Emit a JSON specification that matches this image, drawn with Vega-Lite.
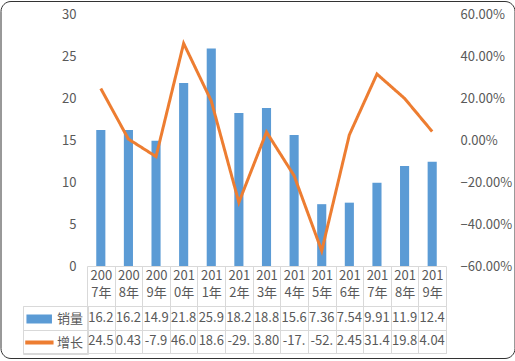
{
  "$schema": "https://vega.github.io/schema/vega-lite/v6.json",
  "padding": 0,
  "background": "white",
  "bounds": "flush",
  "spacing": 40,
  "config": {
    "view": {"stroke": null},
    "font": "Noto Sans CJK SC",
    "axis": {"labelFont": "Noto Sans CJK SC", "grid": false},
    "legend": {"labelFont": "Noto Sans CJK SC"}
  },
  "data": {
    "values": [
      {"year": "2007年", "sales": 16.2, "growth": 24.5, "s_txt": "16.2", "g_txt": "24.5"},
      {"year": "2008年", "sales": 16.2, "growth": 0.43, "s_txt": "16.2", "g_txt": "0.43"},
      {"year": "2009年", "sales": 14.9, "growth": -7.9, "s_txt": "14.9", "g_txt": "-7.9"},
      {"year": "2010年", "sales": 21.8, "growth": 46.0, "s_txt": "21.8", "g_txt": "46.0"},
      {"year": "2011年", "sales": 25.9, "growth": 18.6, "s_txt": "25.9", "g_txt": "18.6"},
      {"year": "2012年", "sales": 18.2, "growth": -29.7, "s_txt": "18.2", "g_txt": "-29."},
      {"year": "2013年", "sales": 18.8, "growth": 3.8, "s_txt": "18.8", "g_txt": "3.80"},
      {"year": "2014年", "sales": 15.6, "growth": -17.0, "s_txt": "15.6", "g_txt": "-17."},
      {"year": "2015年", "sales": 7.36, "growth": -52.8, "s_txt": "7.36", "g_txt": "-52."},
      {"year": "2016年", "sales": 7.54, "growth": 2.45, "s_txt": "7.54", "g_txt": "2.45"},
      {"year": "2017年", "sales": 9.91, "growth": 31.4, "s_txt": "9.91", "g_txt": "31.4"},
      {"year": "2018年", "sales": 11.9, "growth": 19.8, "s_txt": "11.9", "g_txt": "19.8"},
      {"year": "2019年", "sales": 12.4, "growth": 4.04, "s_txt": "12.4", "g_txt": "4.04"}
    ]
  },
  "resolve": {
    "scale": {"color": "independent", "strokeDash": "independent"},
    "legend": {"color": "independent", "strokeDash": "independent"}
  },
  "vconcat": [
    {
      "width": 359,
      "height": 252,
      "resolve": {"scale": {"y": "independent"}},
      "layer": [
        {
          "mark": {"type": "bar", "width": {"band": 0.33}},
          "encoding": {
            "x": {
              "field": "year", "type": "nominal", "sort": null,
              "scale": {"paddingInner": 0, "paddingOuter": 0},
              "axis": {
                "title": null, "labelAngle": 0,
                "labelExpr": "[substring(datum.label,0,3), substring(datum.label,3)]",
                "labelPadding": -37, "labelBaseline": "top", "labelLineHeight": 17,
                "labelFontSize": 13, "labelColor": "#595959",
                "tickBand": "extent", "tickSize": 40, "tickColor": "#d9d9d9",
                "domainColor": "#d9d9d9"
              }
            },
            "y": {
              "field": "sales", "type": "quantitative",
              "scale": {"domain": [0, 30]},
              "axis": {"title": null, "values": [0, 5, 10, 15, 20, 25, 30], "domain": false, "ticks": false, "labelPadding": 11, "labelFontSize": 13, "labelColor": "#595959"}
            },
            "color": {
              "datum": "销量",
              "scale": {"domain": ["销量", "增长"], "range": ["#5b9bd5", "#ed7d31"]},
              "legend": {
                "orient": "none", "legendX": -64, "legendY": 292, "title": null,
                "padding": 4, "strokeColor": "#d9d9d9", "symbolSize": 256,
                "labelOffset": 12, "rowPadding": 7.5, "labelFontSize": 13, "labelColor": "#595959",
                "labelBaseline": "middle",
                "encode": {
                  "symbols": {
                    "update": {
                      "shape": {"signal": "datum.value === '销量' ? 'M-1.1,-0.47H1.9V0.47H-1.1Z' : 'M-1.25,-0.16H2.1V0.16H-1.25Z'"},
                      "fill": {"signal": "datum.value === '销量' ? '#5b9bd5' : '#ed7d31'"},
                      "stroke": {"value": "transparent"},
                      "opacity": {"value": 1}
                    }
                  }
                }
              }
            }
          }
        },
        {
          "mark": {"type": "line", "strokeWidth": 3},
          "encoding": {
            "x": {"field": "year", "type": "nominal", "sort": null},
            "y": {
              "field": "growth", "type": "quantitative",
              "scale": {"domain": [-60, 60]},
              "axis": {"orient": "right", "title": null, "values": [-60, -40, -20, 0, 20, 40, 60], "labelExpr": "format(datum.value/100, '.2%')", "domain": false, "ticks": false, "labelPadding": 14, "labelFontSize": 13, "labelColor": "#595959"}
            },
            "color": {"datum": "增长"},
            "strokeDash": {
              "datum": "边框",
              "scale": {"range": [[1, 0]]},
              "legend": {
                "orient": "none", "legendX": -86.5, "legendY": -13,
                "title": " ", "titleFontSize": 1, "titlePadding": 171,
                "padding": 0, "strokeColor": "#333333", "cornerRadius": 10,
                "symbolSize": 127449, "symbolOpacity": 0, "symbolStrokeColor": "transparent",
                "labelExpr": "''", "labelOffset": 155
              }
            }
          }
        }
      ]
    },
    {
      "width": 359,
      "height": 47,
      "view": {"stroke": "#d9d9d9"},
      "encoding": {
        "x": {
          "field": "year", "type": "nominal", "sort": null,
          "scale": {"paddingInner": 0, "paddingOuter": 0},
          "axis": {"orient": "top", "title": null, "labels": false, "ticks": false, "domain": false, "grid": true, "gridColor": "#d9d9d9", "tickBand": "extent"}
        }
      },
      "layer": [
        {
          "mark": {"type": "text", "fontSize": 13, "color": "#595959"},
          "encoding": {
            "y": {
              "datum": "销量", "type": "nominal",
              "scale": {"domain": ["销量", "增长"], "paddingInner": 0, "paddingOuter": 0},
              "axis": {"title": null, "labels": false, "domain": false, "grid": true, "gridColor": "#d9d9d9", "tickBand": "extent", "ticks": true, "tickSize": 64, "tickColor": "#d9d9d9"}
            },
            "text": {"field": "s_txt"}
          }
        },
        {
          "mark": {"type": "text", "fontSize": 13, "color": "#595959"},
          "encoding": {
            "y": {"datum": "增长", "type": "nominal"},
            "text": {"field": "g_txt"}
          }
        }
      ]
    }
  ]
}
